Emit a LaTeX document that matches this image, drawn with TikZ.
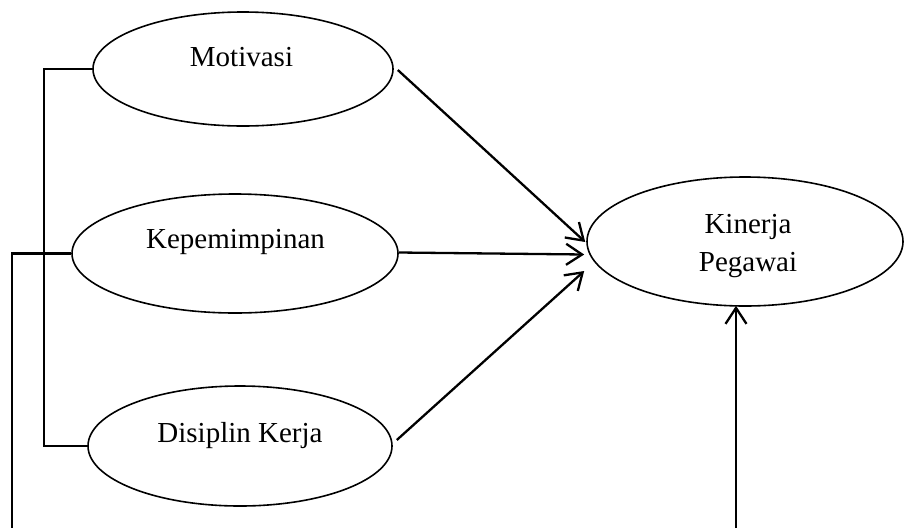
\documentclass[tikz,border=0pt]{standalone}
\usepackage{fontspec}
\setmainfont{Liberation Serif}
\usetikzlibrary{shapes.geometric,arrows.meta}
\begin{document}
\begin{tikzpicture}[x=1pt,y=-1pt,
  ell/.style={draw,ellipse,line width=1.6pt,inner sep=0pt},
  lbl/.style={font=\fontsize{29}{38}\selectfont,align=center,inner sep=0pt},
  conn/.style={line width=2.2pt},
  arr/.style={line width=2.3pt,-{Straight Barb[length=16pt,width=21pt,line width=2.3pt]}}]
\useasboundingbox (0,0) rectangle (905,528);
% ellipses
\node[ell,minimum width=300pt,minimum height=114pt] (mot) at (243,69) {};
\node[ell,minimum width=326pt,minimum height=119pt] (kep) at (235,253.5) {};
\node[ell,minimum width=304pt,minimum height=120pt] (dis) at (240,446) {};
\node[ell,minimum width=316pt,minimum height=129pt] (kin) at (745,241.5) {};
% labels
\node[lbl,anchor=base] (tmot) at (241.5,66) {Motivasi};
\node[lbl,anchor=base] (tkep) at (235.5,248) {Kepemimpinan};
\node[lbl,anchor=base] (tdis) at (240,442) {Disiplin Kerja};
\node[lbl] (tkin) at (748,246.4) {Kinerja\\Pegawai};
% free ends
\coordinate (ba) at (44,0);
\coordinate (bb) at (12,528);
\coordinate (bc) at (736,528);
% left brackets
\draw[conn] (mot.west) -- (mot.west -| ba) -- (dis.west -| ba) -- (dis.west);
\draw[conn] (kep.west) -- (kep.west -| bb) -- (bb);
% arrows to Kinerja
\draw[arr] ([shift={(4,1)}]mot.east) -- ([shift={(-1,0.5)}]kin.west);
\draw[arr] ([yshift=1]kep.east) -- ([shift={(-2,13)}]kin.west);
\draw[arr] ([shift={(4,-6)}]dis.east) -- ([shift={(-2,29.5)}]kin.west);
\draw[arr] (bc) -- ([yshift=1]bc |- kin.south);
\end{tikzpicture}
\end{document}
